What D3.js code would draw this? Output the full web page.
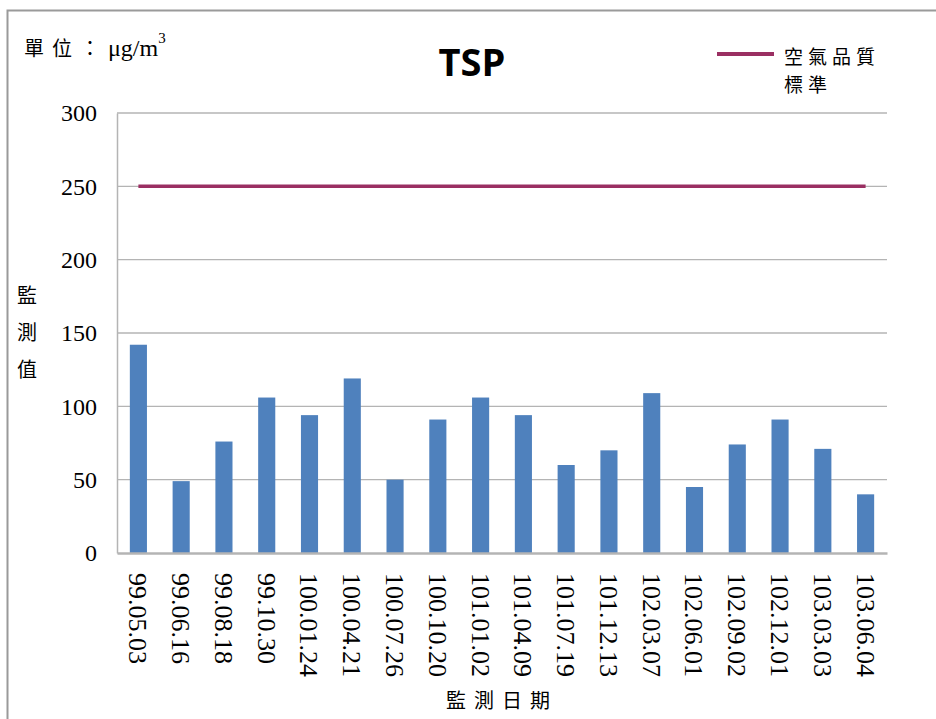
<!DOCTYPE html>
<html>
<head>
  <meta charset="UTF-8">
  <title>TSP</title>
  <script src="https://cdn.jsdelivr.net/npm/d3@7"></script>
  <style>
    body { margin: 0; background: #fff; }
  </style>
</head>
<body>

<div class="chart"></div>

<script>

  // data
  var dates = ['99.05.03', '99.06.16', '99.08.18', '99.10.30', '100.01.24', '100.04.21',
               '100.07.26', '100.10.20', '101.01.02', '101.04.09', '101.07.19', '101.12.13',
               '102.03.07', '102.06.01', '102.09.02', '102.12.01', '103.03.03', '103.06.04'];
  var tspValues = [142, 49, 76, 106, 94, 119, 50, 91, 106, 94, 60, 70, 109, 45, 74, 91, 71, 40];
  var standardValue = 250;
  var yTicks = [0, 50, 100, 150, 200, 250, 300];

  var SERIF = '"Liberation Serif", "Times New Roman", serif';
  var CJK = '"Noto Sans CJK TC", "Noto Sans CJK SC", sans-serif';

  var W = 936, H = 719;
  var margin = { top: 113, right: 49, bottom: 166, left: 117 };
  var width = W - margin.left - margin.right;
  var height = H - margin.top - margin.bottom;

  var svg = d3.select('.chart')
    .append('svg')
      .attr('width', W)
      .attr('height', H);

  // outer frame (only left and top visible)
  svg.append('rect')
    .attr('x', 7.5).attr('y', 10.5)
    .attr('width', W + 10).attr('height', H + 10)
    .style('fill', 'none')
    .style('stroke', '#9a9a9a')
    .style('stroke-width', 2);

  var g = svg.append('g')
    .attr('transform', `translate(${margin.left}, ${margin.top})`);

  var xScale = d3.scaleBand()
    .domain(dates)
    .range([0, width])
    .paddingInner(0.6)
    .paddingOuter(0.3);

  var yScale = d3.scaleLinear()
    .domain([0, 300])
    .range([height, 0]);

  // gridlines
  g.selectAll('.grid')
    .data(yTicks.filter(d => d > 0))
    .enter()
    .append('line')
      .attr('class', 'grid')
      .attr('x1', 0).attr('x2', width)
      .attr('y1', d => yScale(d)).attr('y2', d => yScale(d))
      .style('stroke', '#b4b4b4')
      .style('stroke-width', 1.3);

  // y axis
  var yAxis = g.append('g')
    .call(d3.axisLeft(yScale).tickValues(yTicks).tickSize(0).tickPadding(20));
  yAxis.attr('font-family', null);
  yAxis.select('.domain').style('stroke', '#b4b4b4').style('stroke-width', 1.5);
  yAxis.selectAll('text')
    .style('font-family', SERIF)
    .style('font-size', '24px')
    .style('fill', '#000');

  // bars
  g.selectAll('.bar')
    .data(tspValues)
    .enter()
    .append('rect')
      .attr('class', 'bar')
      .attr('x', (d, i) => xScale(dates[i]))
      .attr('y', d => yScale(d))
      .attr('width', xScale.bandwidth())
      .attr('height', d => height - yScale(d))
      .style('fill', '#4f81bd');

  // x axis
  var xAxis = g.append('g')
    .attr('transform', `translate(0, ${height})`)
    .call(d3.axisBottom(xScale).tickSize(0).tickPadding(0));
  xAxis.attr('font-family', null);
  xAxis.select('.domain').style('stroke', '#b4b4b4').style('stroke-width', 2.5);
  xAxis.selectAll('text')
    .attr('transform', 'translate(0, 20) rotate(90)')
    .attr('x', 0).attr('y', 0).attr('dy', '0.35em')
    .style('text-anchor', 'start')
    .style('font-family', SERIF)
    .style('font-size', '26px')
    .style('fill', '#000');

  // standard line
  var line = d3.line()
    .x(d => xScale(d) + xScale.bandwidth() / 2)
    .y(() => yScale(standardValue));

  g.append('path')
    .datum([dates[0], dates[dates.length - 1]])
    .attr('d', line)
    .style('fill', 'none')
    .style('stroke', '#9a2f62')
    .style('stroke-width', 3.5);

  // title
  svg.append('text')
    .attr('x', 472).attr('y', 76)
    .style('text-anchor', 'middle')
    .style('font-family', '"Open Sans", sans-serif')
    .style('font-weight', 'bold')
    .style('font-size', '38px')
    .text('TSP');

  // unit label
  var unit = svg.append('text').attr('x', 24).attr('y', 56);
  unit.append('tspan').style('font-family', CJK).style('font-size', '20px')
    .style('letter-spacing', '8px').text('單位：');
  unit.append('tspan').style('font-family', SERIF).style('font-size', '24px').text('μg/m');
  unit.append('tspan').style('font-family', SERIF).style('font-size', '15px')
    .attr('dy', -13).text('3');

  // y axis title (stacked)
  svg.selectAll('.ytitle')
    .data(['監', '測', '值'])
    .enter()
    .append('text')
      .attr('x', 27).attr('y', (d, i) => 303 + i * 37)
      .style('text-anchor', 'middle')
      .style('font-family', CJK)
      .style('font-size', '20px')
      .text(d => d);

  // x axis title
  svg.append('text')
    .attr('x', 502).attr('y', 708)
    .style('text-anchor', 'middle')
    .style('font-family', CJK)
    .style('font-size', '20px')
    .style('letter-spacing', '8px')
    .text('監測日期');

  // legend
  svg.append('line')
    .attr('x1', 717).attr('x2', 774)
    .attr('y1', 54).attr('y2', 54)
    .style('stroke', '#9a2f62')
    .style('stroke-width', 4);
  svg.selectAll('.legend')
    .data(['空氣品質', '標準'])
    .enter()
    .append('text')
      .attr('x', 784).attr('y', (d, i) => 64 + i * 28)
      .style('font-family', CJK)
      .style('font-size', '19px')
      .style('letter-spacing', '5px')
      .text(d => d);

</script>

</body>
</html>
